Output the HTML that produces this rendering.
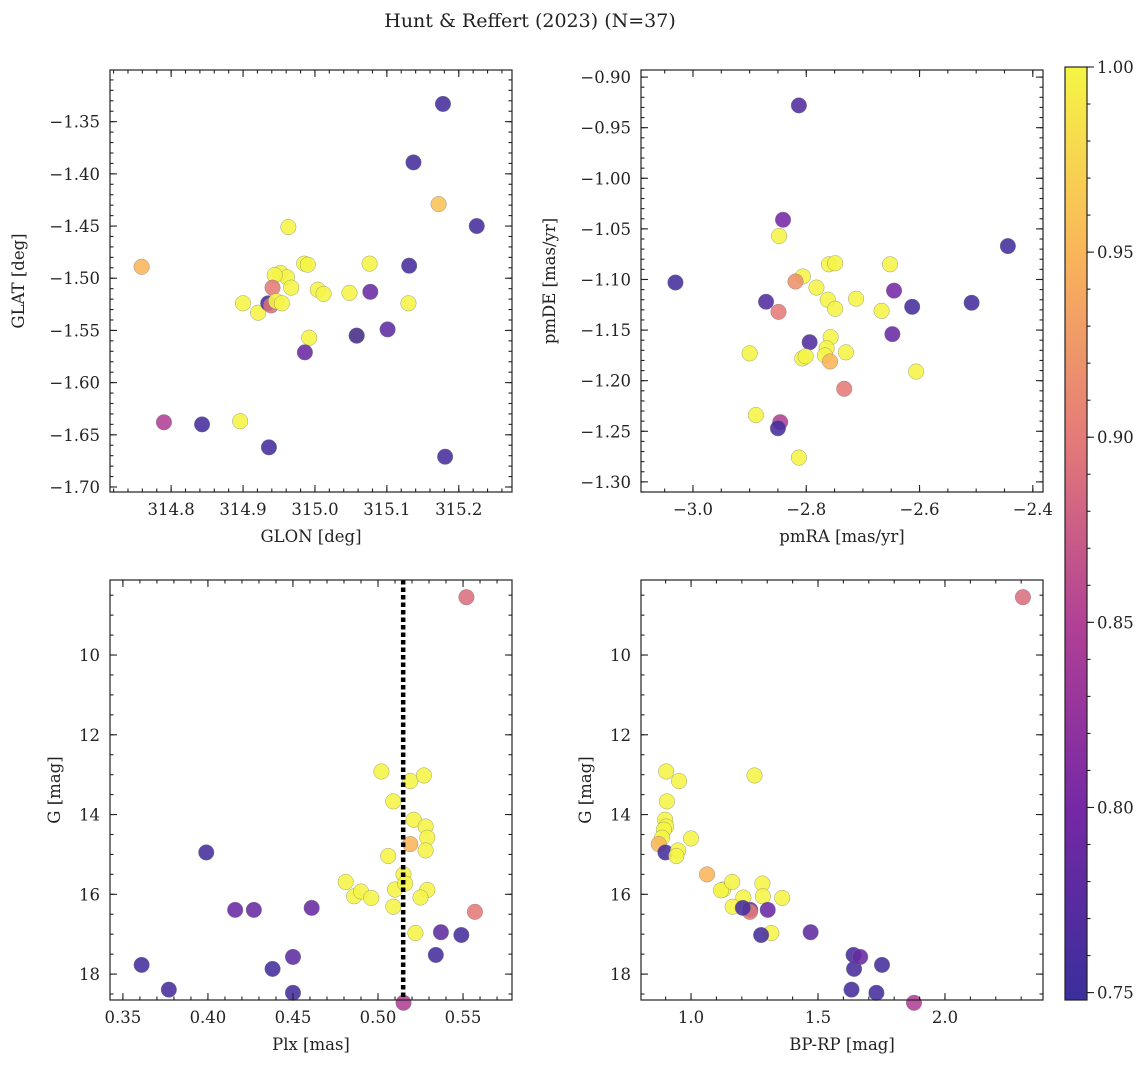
<!DOCTYPE html>
<html><head><meta charset="utf-8"><style>
body{margin:0;background:#fff}
svg text{font-family:"DejaVu Serif","Liberation Serif",serif;fill:#222}
</style></head><body>
<svg id="fig" width="1148" height="1067" viewBox="0 0 1148 1067" xmlns="http://www.w3.org/2000/svg">
<defs><linearGradient id="cg" x1="0" y1="1" x2="0" y2="0">
<stop offset="0" stop-color="#3a2f9b"/><stop offset="0.2" stop-color="#7428a5"/><stop offset="0.4" stop-color="#b04096"/><stop offset="0.6" stop-color="#e47a78"/><stop offset="0.8" stop-color="#f9b55a"/><stop offset="1" stop-color="#f5f545"/></linearGradient></defs>
<text x="530" y="27" font-size="19" text-anchor="middle">Hunt &amp; Reffert (2023) (N=37)</text>
</svg>
<script>
// Panel 1: GLON vs GLAT
const p1x=[315.178,315.137,315.172,315.225,314.759,314.963,314.985,314.952,314.961,314.944,314.990,314.967,315.004,315.012,315.076,315.048,315.077,315.131,315.130,315.101,314.900,314.921,314.935,314.939,314.941,314.946,314.954,314.992,314.986,315.058,315.058,314.790,314.843,314.896,314.936,315.181];
const p1y=[-1.333,-1.389,-1.429,-1.450,-1.489,-1.451,-1.486,-1.495,-1.499,-1.497,-1.487,-1.509,-1.511,-1.515,-1.486,-1.514,-1.513,-1.488,-1.524,-1.549,-1.524,-1.533,-1.524,-1.526,-1.509,-1.522,-1.524,-1.557,-1.571,-1.555,-1.555,-1.638,-1.640,-1.637,-1.662,-1.671];
const p1c=[0.76,0.76,0.96,0.76,0.95,1,1,1,1,1,1,1,1,1,1,1,0.79,0.76,1,0.78,1,1,0.76,0.89,0.9,1,1,1,0.79,1,0.76,0.85,0.76,1,0.76,0.76];
// Panel 2: pmRA vs pmDE
const p2x=[-2.813,-2.841,-2.848,-2.444,-3.031,-2.760,-2.749,-2.652,-2.806,-2.819,-2.782,-2.645,-2.871,-2.849,-2.762,-2.749,-2.712,-2.667,-2.613,-2.508,-2.794,-2.757,-2.764,-2.807,-2.801,-2.767,-2.758,-2.730,-2.648,-2.606,-2.900,-2.733,-2.889,-2.846,-2.850,-2.813];
const p2y=[-0.928,-1.041,-1.057,-1.067,-1.103,-1.085,-1.084,-1.085,-1.097,-1.102,-1.108,-1.111,-1.122,-1.132,-1.120,-1.129,-1.119,-1.131,-1.127,-1.123,-1.162,-1.157,-1.168,-1.178,-1.176,-1.175,-1.181,-1.172,-1.154,-1.191,-1.173,-1.208,-1.234,-1.241,-1.247,-1.276];
const p2c=[0.77,0.8,1,0.76,0.76,1,1,1,1,0.92,1,0.8,0.77,0.9,1,1,1,1,0.76,0.76,0.77,1,1,1,1,1,0.95,1,0.79,1,1,0.9,1,0.85,0.76,1];
// Panel 3: Plx vs G
const p3x=[0.552,0.502,0.519,0.509,0.527,0.521,0.519,0.528,0.529,0.528,0.506,0.481,0.486,0.490,0.496,0.510,0.515,0.509,0.529,0.525,0.516,0.522,0.557,0.399,0.416,0.427,0.461,0.450,0.361,0.377,0.438,0.450,0.534,0.549,0.537,0.515];
const p3y=[8.55,12.92,13.16,13.67,13.02,14.13,14.74,14.30,14.58,14.90,15.04,15.69,16.05,15.93,16.09,15.88,15.50,16.31,15.89,16.08,15.73,16.97,16.44,14.95,16.39,16.39,16.34,17.57,17.77,18.39,17.87,18.47,17.52,17.02,16.95,18.72];
const p3c=[0.89,1,1,1,1,1,0.95,1,1,1,1,1,1,1,1,1,1,1,1,1,1,1,0.9,0.76,0.79,0.79,0.79,0.78,0.76,0.76,0.76,0.76,0.76,0.76,0.78,0.85];
// Panel 4: BP-RP vs G
const p4x=[2.307,0.902,0.905,0.953,0.898,1.250,0.902,0.893,0.886,0.873,0.899,0.949,1.000,0.942,1.063,1.127,1.118,1.162,1.281,1.206,1.283,1.359,1.164,1.233,1.302,1.232,1.316,1.204,1.276,1.471,1.640,1.642,1.666,1.752,1.632,1.730,1.878];
const p4y=[8.55,12.92,13.67,13.16,14.13,13.02,14.30,14.38,14.58,14.74,14.95,14.90,14.60,15.04,15.50,15.88,15.90,15.69,15.73,16.08,16.05,16.09,16.31,16.39,16.39,16.44,16.97,16.34,17.02,16.95,17.52,17.87,17.57,17.77,18.39,18.47,18.72];
const p4c=[0.89,1,1,1,1,1,1,1,1,0.95,0.76,1,1,1,0.95,1,1,1,1,1,1,1,1,0.79,0.79,0.9,1,0.76,0.76,0.78,0.76,0.76,0.79,0.76,0.76,0.76,0.85];
const cbTicks=[0.75,0.80,0.85,0.90,0.95,1.00];

const NS="http://www.w3.org/2000/svg";
const svg=document.getElementById('fig');
function mk(tag,attrs,parent){const e=document.createElementNS(NS,tag);for(const k in attrs)e.setAttribute(k,attrs[k]);(parent||svg).appendChild(e);return e;}
const stops=[[0.75,[58,47,155]],[0.8,[116,40,165]],[0.85,[176,64,150]],[0.9,[228,122,120]],[0.95,[249,181,90]],[1,[245,245,69]]];
function cmap(v){v=Math.max(0.75,Math.min(1,v));for(let i=0;i<stops.length-1;i++){const a=stops[i],b=stops[i+1];if(v<=b[0]){const t=(v-a[0])/(b[0]-a[0]);const c=a[1].map((x,j)=>Math.round(x+(b[1][j]-x)*t));return `rgb(${c})`;}}return 'rgb(245,245,69)';}
function ticks(lo,hi,step){const r=[];const s=Math.ceil(lo/step-1e-9);for(let i=s;i*step<=hi+1e-9;i++)r.push(+(i*step).toFixed(6));return r;}

function panel(name,box,xr,yr,xmaj,xmin,ymaj,ymin,xdec,ydec,xlab,ylab,invY,X,Y,C,vline){
  const g=mk('g',{});
  
  
  const [L,T,R,B]=box;
  const sx=v=>L+(v-xr[0])/(xr[1]-xr[0])*(R-L);
  const sy=invY?(v=>T+(v-yr[0])/(yr[1]-yr[0])*(B-T)):(v=>B-(v-yr[0])/(yr[1]-yr[0])*(B-T));
  const pts=mk('g',{},g);
  
  
  for(let i=0;i<X.length;i++){
    const c=mk('circle',{cx:sx(X[i]),cy:sy(Y[i]),r:7.8,fill:cmap(C[i]),'fill-opacity':0.88,stroke:'#777','stroke-width':0.5,'stroke-opacity':0.7},pts);
    
    
  }
  if(vline!==undefined){
    const l=mk('line',{x1:sx(vline),x2:sx(vline),y1:T,y2:B,stroke:'#000','stroke-width':4.5,'stroke-dasharray':'4.5 3'},g);
    
    
  }
  const fr=mk('rect',{x:L,y:T,width:R-L,height:B-T,fill:'none',stroke:'#222','stroke-width':1.2},g);
  
  
  const tk=mk('g',{stroke:'#222','stroke-width':1.1},g);
  ticks(xr[0],xr[1],xmin).forEach(v=>{const x=sx(v);mk('line',{x1:x,x2:x,y1:B,y2:B-3.5},tk);mk('line',{x1:x,x2:x,y1:T,y2:T+3.5},tk);});
  ticks(yr[0],yr[1],ymin).forEach(v=>{const y=sy(v);mk('line',{x1:L,x2:L+3.5,y1:y,y2:y},tk);mk('line',{x1:R,x2:R-3.5,y1:y,y2:y},tk);});
  ticks(xr[0],xr[1],xmaj).forEach(v=>{const x=sx(v);mk('line',{x1:x,x2:x,y1:B,y2:B-7},tk);mk('line',{x1:x,x2:x,y1:T,y2:T+7},tk);
    const t=mk('text',{x:x,y:B+23,'font-size':16.5,'text-anchor':'middle'},g);t.textContent=v.toFixed(xdec).replace('-','−');
    });
  ticks(yr[0],yr[1],ymaj).forEach(v=>{const y=sy(v);mk('line',{x1:L,x2:L+7,y1:y,y2:y},tk);mk('line',{x1:R,x2:R-7,y1:y,y2:y},tk);
    const t=mk('text',{x:L-10,y:y+6,'font-size':16.5,'text-anchor':'end'},g);t.textContent=v.toFixed(ydec).replace('-','−');
    });
  const xl=mk('text',{x:(L+R)/2,y:B+50,'font-size':16.5,'text-anchor':'middle'},g);xl.textContent=xlab;
  
  const yx=L-(ydec===2?86:50);
  const yl=mk('text',{x:yx,y:(T+B)/2,'font-size':16.5,'text-anchor':'middle',transform:`rotate(-90 ${yx} ${(T+B)/2})`},g);yl.textContent=ylab;
  
}
panel('glon-glat-panel',[110,70,512,492],[314.715,315.274],[-1.7048,-1.3005],0.1,0.02,0.05,0.01,1,2,'GLON [deg]','GLAT [deg]',false,p1x,p1y,p1c);
panel('proper-motion-panel',[641,70,1043,492],[-3.0918,-2.382],[-1.31,-0.893],0.2,0.05,0.05,0.01,1,2,'pmRA [mas/yr]','pmDE [mas/yr]',false,p2x,p2y,p2c);
panel('parallax-magnitude-panel',[110,580,512,1000],[0.3424,0.5788],[8.119,18.65],0.05,0.01,2,0.5,2,0,'Plx [mas]','G [mag]',true,p3x,p3y,p3c,0.5148);
panel('color-magnitude-panel',[641,580,1043,1000],[0.803,2.386],[8.119,18.65],0.5,0.1,2,0.5,1,0,'BP-RP [mag]','G [mag]',true,p4x,p4y,p4c);

// colorbar
const cb=mk('g',{});


const cT=67,cB=1000,cL=1065,cR=1087,cmin=0.748,cmax=1.0;
const cy=v=>cB-(v-cmin)/(cmax-cmin)*(cB-cT);
mk('rect',{x:cL,y:cT,width:cR-cL,height:cB-cT,fill:'url(#cg)',stroke:'#222','stroke-width':1.2},cb);
ticks(cmin,cmax,0.01).forEach(v=>{mk('line',{x1:cR,x2:cR+3.5,y1:cy(v),y2:cy(v),stroke:'#222','stroke-width':1.1},cb);});
cbTicks.forEach(v=>{const y=cy(v);mk('line',{x1:cR,x2:cR+7,y1:y,y2:y,stroke:'#222','stroke-width':1.1},cb);
  const t=mk('text',{x:cR+10,y:y+6,'font-size':16.5},cb);t.textContent=v.toFixed(2);
  });
</script>
</body></html>
